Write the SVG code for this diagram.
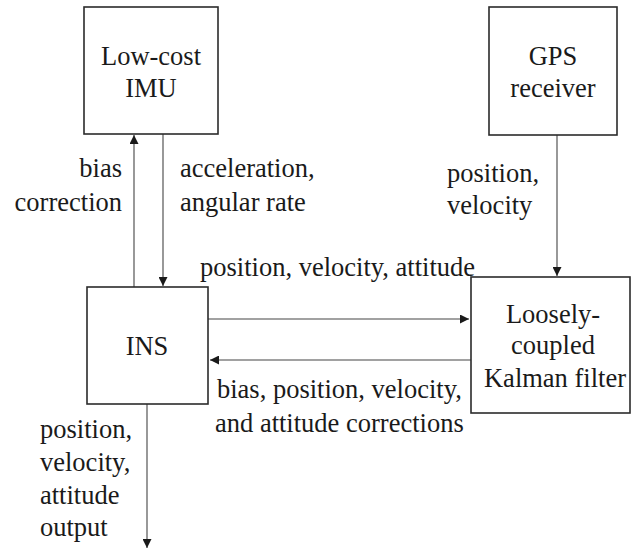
<svg xmlns="http://www.w3.org/2000/svg" width="631" height="552" viewBox="0 0 631 552">
  <style>
    .box { fill: #ffffff; stroke: #2b2b2b; stroke-width: 1.6; }
    .wire { fill: none; stroke: #444444; stroke-width: 1.1; }
    .t { font-family: 'Liberation Serif', 'Times New Roman', serif; font-size: 26.5px; fill: #1a1a1a; }
    .c { text-anchor: middle; }
    .r { text-anchor: end; }
  </style>
  <defs>
    <marker id="arrow" viewBox="0 0 10 10" refX="10" refY="5" markerWidth="9" markerHeight="9" markerUnits="userSpaceOnUse" orient="auto">
      <path d="M0,0 L10,5 L0,10 Z" fill="#1a1a1a"/>
    </marker>
  </defs>
  <rect width="631" height="552" fill="#ffffff"/>

  <!-- arrows between the blocks and their signal labels -->
  <g id="connectors" class="t">
    <line class="wire" x1="134" y1="287" x2="134" y2="135" marker-end="url(#arrow)"/>
    <line class="wire" x1="163" y1="134" x2="163" y2="286" marker-end="url(#arrow)"/>
    <line class="wire" x1="557" y1="135" x2="557" y2="276" marker-end="url(#arrow)"/>
    <line class="wire" x1="208" y1="319" x2="469" y2="319" marker-end="url(#arrow)"/>
    <line class="wire" x1="471" y1="360" x2="210" y2="360" marker-end="url(#arrow)"/>
    <line class="wire" x1="147" y1="404" x2="147" y2="548" marker-end="url(#arrow)"/>
    <text class="r" x="122" y="177">bias</text>
    <text class="r" x="122" y="211">correction</text>
    <text x="180" y="177">acceleration,</text>
    <text x="180" y="211">angular rate</text>
    <text x="447" y="182">position,</text>
    <text x="447" y="214">velocity</text>
    <text x="200" y="276">position, velocity, attitude</text>
    <text x="217" y="398">bias, position, velocity,</text>
    <text x="215" y="432">and attitude corrections</text>
    <text x="40" y="438">position,</text>
    <text x="40" y="471">velocity,</text>
    <text x="40" y="504">attitude</text>
    <text x="40" y="536">output</text>
  </g>

  <g id="imu" class="t">
    <rect class="box" x="84" y="7" width="134" height="127"/>
    <text class="c" x="151" y="65">Low-cost</text>
    <text class="c" x="151" y="97">IMU</text>
  </g>

  <g id="gps" class="t">
    <rect class="box" x="489" y="7" width="128" height="128"/>
    <text class="c" x="553" y="65">GPS</text>
    <text class="c" x="553" y="97">receiver</text>
  </g>

  <g id="ins" class="t">
    <rect class="box" x="87" y="287" width="121" height="117"/>
    <text class="c" x="147" y="355">INS</text>
  </g>

  <g id="kalman" class="t">
    <rect class="box" x="471" y="277" width="159" height="136"/>
    <text class="c" x="553" y="323">Loosely-</text>
    <text class="c" x="553" y="354">coupled</text>
    <text class="c" x="555" y="387">Kalman filter</text>
  </g>
</svg>
